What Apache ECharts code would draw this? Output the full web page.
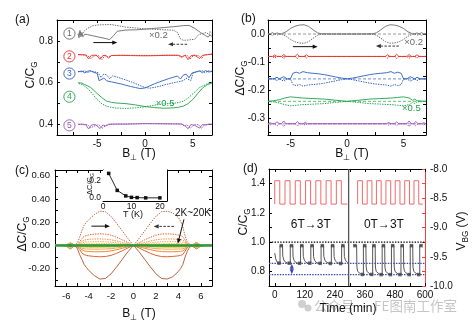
<!DOCTYPE html>
<html><head><meta charset="utf-8">
<script src="https://cdn.jsdelivr.net/npm/echarts@6/dist/echarts.min.js"></script>
<style>html,body{margin:0;padding:0;background:#fff}#c{width:476px;height:324px}</style>
</head><body><div id="c"></div>
<script>
const FONT = '"Liberation Sans", Arial, Helvetica, sans-serif';

// ---------------- Panel (a): C/CG vs B_perp, two sweep branches per trace ----------------
const aGrayUp = [[-7.0,0.835],[-6.9,0.815],[-6.8,0.85],[-6.7,0.82],[-6.6,0.84],[-6.5,0.82],[-6.3,0.832],[-6,0.83],[-5.5,0.825],[-5,0.82],[-4.5,0.815],[-4,0.81],[-3.7,0.806],[-3.3,0.825],[-2.9,0.846],[-2,0.852],[-1,0.853],[0,0.856],[1,0.86],[2,0.864],[3,0.868],[4,0.873],[4.6,0.874],[5.2,0.86],[5.8,0.84],[6.3,0.826],[6.6,0.818],[6.8,0.83],[7,0.82]];
const aGrayDown = [[7,0.835],[6.8,0.845],[6.7,0.83],[6.4,0.84],[6,0.835],[5.6,0.83],[5.2,0.808],[4.8,0.806],[4.5,0.804],[4,0.803],[3.7,0.81],[3.4,0.84],[3,0.851],[2,0.853],[1,0.856],[0,0.858],[-1,0.862],[-2,0.866],[-3,0.874],[-3.5,0.878],[-4,0.878],[-5,0.876],[-5.5,0.872],[-6,0.86],[-6.3,0.85],[-6.6,0.83],[-6.8,0.845],[-7,0.83]];
const aRedUp = [[-7,0.735],[-6.6,0.734],[-6.2,0.733],[-5.9,0.714],[-5.6,0.731],[-5.1,0.732],[-4.7,0.712],[-4.4,0.73],[-4.1,0.731],[-3.8,0.718],[-3.5,0.73],[-2.5,0.731],[-1.5,0.73],[-0.5,0.729],[0.5,0.729],[1.5,0.73],[2.5,0.731],[3.5,0.731],[3.9,0.724],[4.2,0.731],[4.5,0.71],[4.8,0.729],[5.2,0.731],[5.7,0.716],[6.0,0.731],[6.5,0.734],[7,0.736]];
const aRedDown = [[7,0.737],[6.6,0.735],[6.2,0.733],[5.9,0.716],[5.6,0.73],[5.1,0.732],[4.7,0.713],[4.4,0.731],[4.1,0.731],[3.8,0.72],[3.5,0.731],[2.5,0.732],[1.5,0.731],[0.5,0.73],[-0.5,0.73],[-1.5,0.731],[-2.5,0.731],[-3.5,0.73],[-3.9,0.723],[-4.2,0.73],[-4.5,0.711],[-4.8,0.728],[-5.2,0.731],[-5.7,0.715],[-6.0,0.73],[-6.5,0.733],[-7,0.734]];
const aBlueUp = [[-7,0.652],[-6.6,0.656],[-6.3,0.647],[-6.0,0.655],[-5.7,0.658],[-5.4,0.65],[-5.0,0.645],[-4.8,0.61],[-4.6,0.602],[-4.3,0.622],[-4.0,0.609],[-3.5,0.604],[-3,0.599],[-2.5,0.594],[-2,0.588],[-1.5,0.582],[-1,0.577],[-0.5,0.572],[0,0.575],[0.5,0.585],[1,0.595],[1.5,0.604],[2,0.612],[2.5,0.62],[3,0.627],[3.4,0.632],[3.7,0.618],[4.0,0.636],[4.3,0.641],[4.6,0.624],[4.9,0.646],[5.3,0.652],[5.7,0.656],[6.0,0.648],[6.3,0.658],[6.7,0.651],[7,0.655]];
const aBlueDown = [[7,0.654],[6.6,0.657],[6.3,0.648],[6.0,0.656],[5.7,0.657],[5.4,0.651],[5.0,0.646],[4.8,0.611],[4.6,0.603],[4.3,0.621],[4.0,0.61],[3.5,0.605],[3,0.6],[2.5,0.595],[2,0.589],[1.5,0.583],[1,0.578],[0.5,0.574],[0,0.577],[-0.5,0.586],[-1,0.596],[-1.5,0.605],[-2,0.613],[-2.5,0.621],[-3,0.628],[-3.4,0.633],[-3.7,0.619],[-4.0,0.637],[-4.3,0.642],[-4.6,0.625],[-4.9,0.647],[-5.3,0.653],[-5.7,0.655],[-6.0,0.649],[-6.3,0.657],[-6.7,0.652],[-7,0.654]];
const aGreenUp = [[-7,0.6],[-6.6,0.598],[-6.3,0.591],[-6,0.585],[-5.7,0.578],[-5.4,0.566],[-5,0.548],[-4.5,0.528],[-4,0.512],[-3.5,0.506],[-3,0.503],[-2,0.5],[-1,0.494],[0,0.486],[1,0.481],[2,0.478],[3,0.48],[3.5,0.483],[4,0.488],[4.5,0.5],[5,0.52],[5.5,0.548],[6,0.574],[6.5,0.591],[7,0.598]];
const aGreenDown = [[7,0.602],[6.6,0.597],[6.3,0.59],[6,0.584],[5.7,0.577],[5.4,0.565],[5,0.547],[4.5,0.527],[4,0.511],[3.5,0.505],[3,0.502],[2,0.499],[1,0.493],[0,0.485],[-1,0.48],[-2,0.477],[-3,0.479],[-3.5,0.482],[-4,0.487],[-4.5,0.499],[-5,0.519],[-5.5,0.547],[-6,0.573],[-6.5,0.59],[-7,0.597]];
const aPurpleUp = [[-7,0.401],[-6.6,0.402],[-6.2,0.4],[-5.9,0.379],[-5.6,0.398],[-5.2,0.4],[-4.7,0.381],[-4.4,0.398],[-4.1,0.393],[-3.8,0.401],[-3,0.402],[-2,0.402],[-1,0.403],[0,0.404],[1,0.404],[2,0.404],[3,0.403],[3.8,0.403],[4.1,0.396],[4.5,0.38],[4.8,0.4],[5.2,0.396],[5.7,0.383],[6.0,0.4],[6.4,0.398],[6.7,0.402],[7,0.4]];
const aPurpleDown = [[7,0.402],[6.6,0.401],[6.2,0.399],[5.9,0.381],[5.6,0.399],[5.2,0.401],[4.7,0.382],[4.4,0.399],[4.1,0.394],[3.8,0.402],[3,0.403],[2,0.403],[1,0.404],[0,0.405],[-1,0.404],[-2,0.403],[-3,0.403],[-3.8,0.402],[-4.1,0.395],[-4.5,0.381],[-4.8,0.399],[-5.2,0.395],[-5.7,0.384],[-6.0,0.399],[-6.4,0.399],[-6.7,0.401],[-7,0.401]];
const aTraceLabels = ['1','2','3','4','5'];
const aTraceLabelY = [0.835, 0.726, 0.644, 0.533, 0.396];

// ---------------- Panel (b): deltaC/CG, offset baselines and half-widths of the loops ----------------
const bGrayBase = 0, bRedBase = -0.08, bBlueBase = -0.16, bGreenBase = -0.24, bPurpleBase = -0.32;
const bGrayDev = [[-7,0],[-6.9,0.006],[-6.8,0],[-6.6,0.005],[-6.4,0],[-6.2,0.004],[-6,0],[-5.8,0.001],[-5.4,0.008],[-5,0.02],[-4.6,0.028],[-4.2,0.032],[-3.8,0.033],[-3.4,0.027],[-3,0.015],[-2.6,0.004],[-2.3,0.001],[-1,0],[0,0],[1,0],[2.3,0.001],[2.6,0.004],[3,0.015],[3.4,0.027],[3.8,0.033],[4.2,0.032],[4.6,0.028],[5,0.02],[5.4,0.008],[5.8,0.001],[6,0],[6.2,0.004],[6.4,0],[6.6,0.005],[6.8,0],[6.9,0.006],[7,0]];
const bRedDev = [[-7,0],[-6.6,0],[-6.4,0.006],[-6.2,0],[-5.8,0],[-5.6,0.007],[-5.4,0],[-4.6,0],[-4.4,0.008],[-4.2,0],[-3.8,0],[-3.6,0.006],[-3.4,0],[-2,0],[2,0],[3.4,0],[3.6,0.006],[3.8,0],[4.2,0],[4.4,0.008],[4.6,0],[5.3,0],[5.5,0.007],[5.7,0],[6.0,0],[6.2,0.006],[6.4,0],[7,0]];
const bBlueDev = [[-7,0],[-6.5,0],[-6.2,0.006],[-6,0],[-5.6,0.008],[-5.3,0],[-5,0.001],[-4.8,0.02],[-4.5,0.024],[-4.2,0.02],[-3.9,0.026],[-3.5,0.022],[-3,0.02],[-2.5,0.018],[-2,0.015],[-1.5,0.011],[-1,0.007],[-0.5,0.003],[0,0],[0.5,0.003],[1,0.007],[1.5,0.011],[2,0.015],[2.5,0.018],[3,0.02],[3.5,0.022],[3.9,0.026],[4.2,0.02],[4.5,0.024],[4.8,0.02],[5,0.001],[5.3,0],[5.6,0.008],[6,0],[6.2,0.006],[6.5,0],[7,0]];
const bGreenDev = [[-7,0],[-6.5,0.002],[-6,0.006],[-5.5,0.012],[-5,0.016],[-4.5,0.014],[-4,0.012],[-3,0.01],[-2,0.008],[-1,0.004],[0,0],[1,0.004],[2,0.008],[3,0.01],[4,0.012],[4.5,0.014],[5,0.016],[5.5,0.012],[5.8,0.004],[6,0.008],[6.2,0.002],[7,0]];
const bPurpleDev = [[-7,0],[-6.8,0.004],[-6.6,0],[-6.4,0],[-6.2,0.007],[-6,0],[-5.8,0],[-5.6,0.01],[-5.4,0],[-4.6,0],[-4.4,0.008],[-4.2,0],[-3.9,0],[-3.7,0.005],[-3.5,0],[3.5,0],[3.7,0.005],[3.9,0],[4.2,0],[4.4,0.007],[4.6,0],[5.3,0],[5.5,0.01],[5.7,0],[5.9,0],[6.1,0.008],[6.3,0],[6.6,0],[6.8,0.004],[7,0]];

// ---------------- Panel (c): deltaC/CG vs B for 2K..20K ----------------
const cB = [-7,-6.5,-6,-5.8,-5.6,-5.4,-5.2,-5,-4.8,-4.6,-4.4,-4.2,-4,-3.5,-3,-2.5,-2,-1.5,-1,-0.5,0,0.5,1,1.5,2,2.5,3,3.5,4,4.2,4.4,4.6,4.8,5,5.2,5.4,5.6,5.8,6,6.5,7];
const c2KUp = [0,0,0.005,0.015,0.025,0.01,0.005,0.02,0.07,0.13,0.175,0.2,0.22,0.265,0.295,0.29,0.25,0.19,0.125,0.06,0,0.06,0.125,0.19,0.25,0.29,0.295,0.28,0.24,0.21,0.16,0.08,0.03,0.01,0.005,0.012,0.028,0.015,0.005,0,0];
const c2KDn = [0,0,-0.005,-0.02,-0.03,-0.012,-0.005,-0.03,-0.08,-0.12,-0.165,-0.19,-0.215,-0.26,-0.29,-0.285,-0.245,-0.185,-0.12,-0.055,0,-0.055,-0.12,-0.185,-0.245,-0.285,-0.29,-0.27,-0.225,-0.2,-0.165,-0.1,-0.05,-0.015,-0.005,-0.015,-0.03,-0.02,-0.005,0,0];
const c5KUp = [0,0,0.003,0.01,0.02,0.008,0.003,0.01,0.03,0.06,0.078,0.085,0.09,0.097,0.1,0.098,0.088,0.07,0.048,0.024,0,0.024,0.048,0.07,0.088,0.098,0.1,0.097,0.09,0.085,0.075,0.045,0.015,0.005,0.003,0.008,0.02,0.01,0.003,0,0];
const c5KDn = [0,0,-0.003,-0.012,-0.022,-0.008,-0.003,-0.012,-0.035,-0.065,-0.08,-0.086,-0.09,-0.095,-0.098,-0.096,-0.086,-0.068,-0.046,-0.022,0,-0.022,-0.046,-0.068,-0.086,-0.096,-0.098,-0.095,-0.09,-0.086,-0.078,-0.05,-0.018,-0.005,-0.003,-0.008,-0.022,-0.012,-0.003,0,0];
const c8KUp = [0,0,0.002,0.012,0.022,0.006,0.002,0.006,0.018,0.035,0.045,0.05,0.052,0.055,0.056,0.054,0.048,0.038,0.026,0.013,0,0.013,0.026,0.038,0.048,0.054,0.056,0.055,0.052,0.05,0.045,0.03,0.01,0.003,0.002,0.006,0.022,0.012,0.002,0,0];
const c8KDn = [0,0,-0.002,-0.014,-0.024,-0.006,-0.002,-0.008,-0.022,-0.038,-0.047,-0.051,-0.053,-0.055,-0.055,-0.053,-0.047,-0.037,-0.025,-0.012,0,-0.012,-0.025,-0.037,-0.047,-0.053,-0.055,-0.055,-0.053,-0.051,-0.047,-0.034,-0.012,-0.003,-0.002,-0.006,-0.024,-0.014,-0.002,0,0];
const c10KUp = [0,0,0.002,0.012,0.025,0.005,0.002,0.004,0.012,0.022,0.028,0.03,0.031,0.032,0.032,0.031,0.028,0.022,0.015,0.008,0,0.008,0.015,0.022,0.028,0.031,0.032,0.032,0.031,0.03,0.028,0.02,0.007,0.002,0.002,0.005,0.025,0.012,0.002,0,0];
const c10KDn = [0,0,-0.002,-0.014,-0.027,-0.005,-0.002,-0.005,-0.014,-0.024,-0.029,-0.031,-0.031,-0.032,-0.032,-0.031,-0.028,-0.022,-0.015,-0.008,0,-0.008,-0.015,-0.022,-0.028,-0.031,-0.032,-0.032,-0.031,-0.031,-0.029,-0.022,-0.008,-0.002,-0.002,-0.005,-0.027,-0.014,-0.002,0,0];
const c12KUp = [0,0,0.001,0.01,0.02,0.004,0.001,0.002,0.007,0.012,0.015,0.016,0.016,0.017,0.017,0.016,0.015,0.012,0.008,0.004,0,0.004,0.008,0.012,0.015,0.016,0.017,0.017,0.016,0.016,0.015,0.011,0.004,0.001,0.001,0.004,0.02,0.01,0.001,0,0];
const c12KDn = [0,0,-0.001,-0.012,-0.022,-0.004,-0.001,-0.003,-0.008,-0.013,-0.016,-0.016,-0.017,-0.017,-0.017,-0.016,-0.015,-0.012,-0.008,-0.004,0,-0.004,-0.008,-0.012,-0.015,-0.016,-0.017,-0.017,-0.017,-0.016,-0.016,-0.012,-0.004,-0.001,-0.001,-0.004,-0.022,-0.012,-0.001,0,0];
const c15KUp = [0,0,0,0.006,0.012,0.002,0,0.001,0.003,0.005,0.006,0.006,0.006,0.007,0.007,0.006,0.006,0.005,0.003,0.002,0,0.002,0.003,0.005,0.006,0.006,0.007,0.007,0.006,0.006,0.006,0.005,0.002,0,0,0.002,0.012,0.006,0,0,0];
const c15KDn = [0,0,0,-0.007,-0.013,-0.002,0,-0.001,-0.003,-0.005,-0.006,-0.006,-0.007,-0.007,-0.007,-0.006,-0.006,-0.005,-0.003,-0.002,0,-0.002,-0.003,-0.005,-0.006,-0.006,-0.007,-0.007,-0.007,-0.006,-0.006,-0.005,-0.002,0,0,-0.002,-0.013,-0.007,0,0,0];
const c20KUp = [0,0,0,0.003,0.006,0.001,0,0,0.001,0.002,0.002,0.002,0.002,0.002,0.002,0.002,0.002,0.002,0.001,0.001,0,0.001,0.001,0.002,0.002,0.002,0.002,0.002,0.002,0.002,0.002,0.002,0.001,0,0,0.001,0.006,0.003,0,0,0];
const c20KDn = [0,0,0,-0.003,-0.006,-0.001,0,0,-0.001,-0.002,-0.002,-0.002,-0.002,-0.002,-0.002,-0.002,-0.002,-0.002,-0.001,-0.001,0,-0.001,-0.001,-0.002,-0.002,-0.002,-0.002,-0.002,-0.002,-0.002,-0.002,-0.002,-0.001,0,0,-0.001,-0.006,-0.003,0,0,0];
const cZero = [[-7,0],[7,0]];
// inset: peak deltaC/CG vs T
const insetT = [2,5,8,10,12,15,20];
const insetDC = [0.29,0.09,0.025,0.008,0.005,0.002,0.002];
const insetZero = [[0,0],[22.5,0]];

// ---------------- Panel (d): C/CG and V_BG vs time ----------------
const dGrayLeft = [[0,0.925],[4,0.885],[8,0.866],[14,0.857],[21,0.855],[21,0.975],[31,0.976],[32,0.905],[36,0.878],[42,0.864],[50,0.857],[62,0.855],[62,0.977],[72,0.975],[73,0.9],[77,0.876],[83,0.862],[91,0.856],[103,0.854],[103,0.976],[113,0.976],[114,0.902],[118,0.877],[124,0.863],[132,0.857],[144,0.855],[144,0.975],[154,0.977],[155,0.9],[159,0.876],[165,0.862],[173,0.856],[185,0.854],[185,0.976],[195,0.975],[196,0.903],[200,0.877],[206,0.863],[214,0.857],[226,0.853],[226,0.976],[236,0.976],[237,0.9],[241,0.876],[247,0.862],[255,0.856],[267,0.853],[267,0.975],[277,0.976],[278,0.902],[282,0.877],[288,0.863],[292,0.858]];
const dGrayRight = [[314,0.975],[327,0.976],[328,0.83],[331,0.8],[336,0.787],[344,0.781],[354,0.779],[354,0.976],[364,0.975],[365,0.83],[368,0.8],[373,0.787],[381,0.781],[391,0.778],[391,0.975],[401,0.976],[402,0.83],[405,0.8],[410,0.787],[418,0.781],[429,0.778],[429,0.976],[439,0.975],[440,0.83],[443,0.8],[448,0.787],[456,0.781],[466,0.777],[466,0.975],[476,0.976],[477,0.83],[480,0.8],[485,0.787],[493,0.781],[504,0.778],[504,0.976],[514,0.975],[515,0.83],[518,0.8],[523,0.787],[531,0.781],[541,0.777],[541,0.975],[551,0.976],[552,0.83],[555,0.8],[560,0.787],[568,0.781],[579,0.778],[579,0.976],[590,0.975]];
const dTopMarks = [[26,0.976],[67,0.976],[108,0.976],[149,0.976],[190,0.976],[231,0.976],[272,0.976],[320,0.976],[359,0.976],[396,0.976],[434,0.976],[471,0.976],[509,0.976],[546,0.976],[584,0.976]];
const dBottomMarks = [[17,0.856],[58,0.856],[99,0.855],[140,0.856],[181,0.855],[222,0.854],[263,0.854],[350,0.779],[387,0.779],[425,0.778],[462,0.778],[500,0.778],[537,0.778],[575,0.778]];
const dVbgLeft = [[0,-8.6],[0,-8.2],[20,-8.2],[20,-8.6],[41,-8.6],[41,-8.2],[61,-8.2],[61,-8.6],[82,-8.6],[82,-8.2],[102,-8.2],[102,-8.6],[123,-8.6],[123,-8.2],[143,-8.2],[143,-8.6],[164,-8.6],[164,-8.2],[184,-8.2],[184,-8.6],[205,-8.6],[205,-8.2],[225,-8.2],[225,-8.6],[246,-8.6],[246,-8.2],[266,-8.2],[266,-8.6],[290,-8.6]];
const dVbgRight = [[331,-8.6],[331,-8.2],[350,-8.2],[350,-8.6],[369,-8.6],[369,-8.2],[388,-8.2],[388,-8.6],[406,-8.6],[406,-8.2],[425,-8.2],[425,-8.6],[444,-8.6],[444,-8.2],[463,-8.2],[463,-8.6],[481,-8.6],[481,-8.2],[500,-8.2],[500,-8.6],[519,-8.6],[519,-8.2],[538,-8.2],[538,-8.6],[556,-8.6],[556,-8.2],[575,-8.2],[575,-8.6],[591,-8.6]];
const dRefLevel = [[-23,1.0],[600,1.0]];
const dBlueHigh = [[-23,0.855],[600,0.855]];
const dBlueLow = [[-23,0.778],[600,0.778]];
const dDivider = [[295,0.7],[295,1.5]];

// ---------------- tick labels ----------------
const aXLabels = [-5,0,5], aXTicks = [-7.5,-5,-2.5,0,2.5,5];
const aYLabels = [0.4,0.6,0.8], aYTicks = [0.4,0.5,0.6,0.7,0.8,0.9];
const bXLabels = [-5,0,5], bXTicks = [-5,-2.5,0,2.5,5];
const bYLabels = [0,-0.1,-0.2,-0.3], bYTicks = [0.05,0,-0.05,-0.1,-0.15,-0.2,-0.25,-0.3,-0.35];
const cXLabels = [-6,-4,-2,0,2,4,6], cXTicks = [-6,-5,-4,-3,-2,-1,0,1,2,3,4,5,6];
const cYLabels = [-0.2,0,0.2,0.4,0.6], cYTicks = [-0.3,-0.2,-0.1,0,0.1,0.2,0.3,0.4,0.5,0.6];
const dXLabels = [0,120,240,360,480,600], dXTicks = [0,60,120,180,240,300,360,420,480,540,600];
const dYLabels = [0.8,1.0,1.2,1.4], dYTicks = [0.7,0.8,0.9,1.0,1.1,1.2,1.3,1.4,1.5];
const dY2Labels = [-10,-9.5,-9,-8.5,-8], dY2Ticks = [-10,-9.75,-9.5,-9.25,-9,-8.75,-8.5,-8.25,-8];
const iXLabels = [0,10,20], iXTicks = [0,5,10,15,20];
const iYLabels = [0,0.2], iYTicks = [0,0.1,0.2,0.3];

// ---------------- build ----------------
const chart = echarts.init(document.getElementById('c'), null, {renderer:'canvas'});
const GRAY='#6a6a6a', RED='#e8312b', BLUE='#2c5fc0', GREEN='#1fa34a', PURPLE='#9a55b8';
const cColors = ['#b8643e','#e0622c','#f08a3a','#f5a64a','#f6c64a','#d4cf40','#2e9a3e'];

function ax(kind, grid, min, max, pos, labels, ticks, fmt, o) {
  o = o || {};
  const col = o.color || '#000';
  return {
    type:'value', gridIndex:grid, min:min, max:max, position:pos,
    axisLine:{show:true,onZero:false,lineStyle:{color:col,width:1}},
    axisTick:{show:true,inside:true,length:3,customValues:ticks,lineStyle:{color:col,width:1}},
    axisLabel:{show:!!labels,customValues:labels||undefined,formatter:fmt,fontSize:o.fs||10,color:'#111',fontFamily:FONT,margin:(o.margin!==undefined?o.margin:4)},
    splitLine:{show:false}
  };
}
const f0 = v => String(Math.round(v));
const f1 = v => v.toFixed(1);
const f2 = v => v.toFixed(2);

const xAxis = [
  ax('x',0,-9.2,7,'bottom',aXLabels,aXTicks,f0,{margin:4}),
  ax('x',0,-9.2,7,'top',null,aXTicks),
  ax('x',1,-7,7,'bottom',bXLabels,bXTicks,f0,{margin:4}),
  ax('x',1,-7,7,'top',null,bXTicks),
  ax('x',2,-7,7,'bottom',cXLabels,cXTicks,f0,{margin:5,fs:9.5}),
  ax('x',2,-7,7,'top',null,cXTicks),
  ax('x',3,-23,600,'bottom',dXLabels,dXTicks,f0,{margin:4}),
  ax('x',3,-23,600,'top',null,dXTicks),
  ax('x',4,0,22.5,'bottom',iXLabels,iXTicks,f0,{margin:1,fs:8.5}),
  ax('x',4,0,22.5,'top',null,iXTicks)
];
const yAxis = [
  ax('y',0,0.35,0.9,'left',aYLabels,aYTicks,f1,{margin:4}),
  ax('y',0,0.35,0.9,'right',null,aYTicks),
  ax('y',1,-0.36,0.05,'left',bYLabels,bYTicks,f1,{margin:3}),
  ax('y',1,-0.36,0.05,'right',null,bYTicks),
  ax('y',2,-0.35,0.65,'left',cYLabels,cYTicks,f2,{margin:5,fs:9.5}),
  ax('y',2,-0.35,0.65,'right',null,cYTicks),
  ax('y',3,0.7,1.5,'left',dYLabels,dYTicks,f1,{margin:4}),
  ax('y',3,-10,-8,'right',dY2Labels,dY2Ticks,f1,{margin:5,color:'#f04040'}),
  ax('y',4,-0.035,0.33,'left',iYLabels,iYTicks,f1,{margin:2,fs:8.5}),
  ax('y',4,-0.035,0.33,'right',null,iYTicks)
];

function ln(xi, yi, data, color, w, type, z) {
  return {type:'line', xAxisIndex:xi, yAxisIndex:yi, data:data, symbol:'none', showSymbol:false,
    silent:true, animation:false, lineStyle:{color:color, width:w, type:type||'solid'}, z:z||2};
}
const DOT = [1.4,1.1];
const pairs = (xs, ys) => xs.map((x,i)=>[x, ys[i]]);
const offs = (base, dev, s) => dev.map(d=>[d[0], base + s*d[1]]);

const series = [];
// (a)
[[aGrayUp,aGrayDown,GRAY],[aRedUp,aRedDown,RED],[aBlueUp,aBlueDown,BLUE],[aGreenUp,aGreenDown,GREEN],[aPurpleUp,aPurpleDown,PURPLE]].forEach(t=>{
  series.push(ln(0,0,t[0],t[2],0.9));
  series.push(ln(0,0,t[1],t[2],1,DOT));
});
// (b)
[[bGrayBase,bGrayDev,GRAY],[bRedBase,bRedDev,RED],[bBlueBase,bBlueDev,BLUE],[bGreenBase,bGreenDev,GREEN],[bPurpleBase,bPurpleDev,PURPLE]].forEach(t=>{
  series.push(ln(2,2,[[-7,t[0]],[7,t[0]]],t[2],0.7,[3,2]));
  series.push(ln(2,2,offs(t[0],t[1],1),t[2],0.9));
  series.push(ln(2,2,offs(t[0],t[1],-1),t[2],1,DOT));
});
// (c)
series.push(ln(4,4,cZero,'#000',0.9,'solid',2));
[[c2KUp,c2KDn],[c5KUp,c5KDn],[c8KUp,c8KDn],[c10KUp,c10KDn],[c12KUp,c12KDn],[c15KUp,c15KDn],[c20KUp,c20KDn]].forEach((t,i)=>{
  const w = i===6 ? 2 : 1;
  series.push(ln(4,4,pairs(cB,t[0]),cColors[i],w,i===6?'solid':DOT,3+i));
  series.push(ln(4,4,pairs(cB,t[1]),cColors[i],w,'solid',3+i));
});
// inset
series.push(ln(8,8,insetZero,'#888',0.8,[3,2]));
series.push({type:'line', xAxisIndex:8, yAxisIndex:8, data:pairs(insetT,insetDC), symbol:'rect', symbolSize:3.5,
  showSymbol:true, silent:true, animation:false, lineStyle:{color:'#111',width:0.9}, itemStyle:{color:'#111'}, z:10});
// (d)
series.push(ln(6,7,dVbgLeft,'#f06a6a',1));
series.push(ln(6,7,dVbgRight,'#f06a6a',1));
series.push(ln(6,6,dBlueHigh,'#3a48b4',1.3,[1.5,1.2]));
series.push(ln(6,6,dBlueLow,'#3a48b4',1.3,[1.5,1.2]));
series.push(ln(6,6,dRefLevel,'#000',1.4,[1.4,1.4]));
series.push(ln(6,6,dGrayLeft,'#555',1));
series.push(ln(6,6,dGrayRight,'#555',1));
series.push(ln(6,6,dDivider,'#555',1.3));
series.push({type:'scatter', xAxisIndex:6, yAxisIndex:6, data:dTopMarks.concat(dBottomMarks), symbol:'rect', symbolSize:3.5,
  silent:true, animation:false, itemStyle:{color:'#444'}, z:6});

chart.setOption({
  animation:false,
  textStyle:{fontFamily:FONT},
  grid:[
    {left:57, top:20, width:155, height:115},
    {left:268, top:20, width:158, height:115},
    {left:55, top:170, width:157, height:116},
    {left:269, top:169, width:156, height:117},
    {left:103, top:170, width:64, height:31, show:true, backgroundColor:'#fff', borderWidth:0, z:4}
  ],
  xAxis:xAxis, yAxis:yAxis, series:series
});

// ---------------- annotations ----------------
const P = (xi, yi, pt) => chart.convertToPixel({xAxisIndex:xi, yAxisIndex:yi}, pt);
const els = [];
function txt(x, y, text, fs, color, align, rot, rich, extra) {
  const st = Object.assign({text:text, fontSize:fs, fontFamily:FONT, fill:color||'#111',
    textAlign:align||'center', align:align||'center', textVerticalAlign:'middle', verticalAlign:'middle'}, extra||{});
  if (rich) st.rich = rich;
  els.push({type:'text', x:x, y:y, rotation:rot||0, style:st, silent:true, z:100});
}
const subRich = (fs) => ({n:{fontSize:fs,lineHeight:fs+3,fontFamily:FONT,fill:'#111'}, s:{fontSize:fs*0.68,lineHeight:fs*0.68,verticalAlign:'bottom',fontFamily:FONT,fill:'#111'}});
function arrow(a, b, color, dashed, both) {
  const dx=b[0]-a[0], dy=b[1]-a[1], L=Math.hypot(dx,dy), ux=dx/L, uy=dy/L;
  const hl=5, hw=2.1;
  const st = both ? [a[0]+ux*hl*0.8, a[1]+uy*hl*0.8] : a;
  const en = [b[0]-ux*hl*0.8, b[1]-uy*hl*0.8];
  const ls = {stroke:color, lineWidth:1};
  if (dashed) ls.lineDash = [2.5,1.5];
  els.push({type:'line', shape:{x1:st[0],y1:st[1],x2:en[0],y2:en[1]}, style:ls, silent:true, z:100});
  const head = (p, vx, vy) => els.push({type:'polygon', shape:{points:[[p[0],p[1]],[p[0]-vx*hl+(-vy)*hw,p[1]-vy*hl+vx*hw],[p[0]-vx*hl-(-vy)*hw,p[1]-vy*hl-vx*hw]]}, style:{fill:color}, silent:true, z:100});
  head(b, ux, uy);
  if (both) head(a, -ux, -uy);
}

// panel letters
txt(15,20,'(a)',12,'#111','left');
txt(241,19,'(b)',12,'#111','left');
txt(15,171,'(c)',12,'#111','left');
txt(243,169,'(d)',12,'#111','left');
// axis names
txt(31,75,'{n|C/C}{s|G}',12,'#111','center',Math.PI/2,subRich(12));
txt(241,78,'{n|ΔC/C}{s|G}',12,'#111','center',Math.PI/2,subRich(12));
txt(23,234,'{n|ΔC/C}{s|G}',12,'#111','center',Math.PI/2,subRich(12));
txt(244,222,'{n|C/C}{s|G}',12,'#111','center',Math.PI/2,subRich(12));
txt(462,231,'{n|V}{s|BG}{n| (V)}',12,'#111','center',Math.PI/2,subRich(12));
txt(139,154,'{n|B}{s|⊥}{n| (T)}',12,'#111','center',0,subRich(12));
txt(352,154,'{n|B}{s|⊥}{n| (T)}',12,'#111','center',0,subRich(12));
txt(139,314,'{n|B}{s|⊥}{n| (T)}',12,'#111','center',0,subRich(12));
// watermark
txt(314,306,'公众号 · FE图南工作室',13.5,'rgba(150,150,150,0.55)','left',0,null,{fontFamily:'"Noto Sans CJK SC", sans-serif'});
els.push({type:'circle', shape:{cx:302,cy:304,r:4}, style:{fill:'rgba(160,160,160,0.5)'}, silent:true, z:99});
els.push({type:'circle', shape:{cx:308,cy:308,r:3.5}, style:{fill:'rgba(160,160,160,0.5)'}, silent:true, z:99});
txt(348,309,'Time (min)',12,'#111','center');
// inset names
txt(90,184,'{n|ΔC/C}{s|G}',7.5,'#111','center',Math.PI/2,subRich(7.5));
txt(133,214.5,'T (K)',9,'#111','center');

// circled trace numbers in (a)
const aCols = [GRAY,RED,BLUE,GREEN,PURPLE];
aTraceLabels.forEach((s,i)=>{
  const p = P(0,0,[-7.9,aTraceLabelY[i]]);
  els.push({type:'circle', shape:{cx:p[0],cy:p[1],r:5.6}, style:{fill:'none',stroke:aCols[i],lineWidth:0.9}, silent:true, z:100});
  txt(p[0],p[1]+0.3,s,8.5,aCols[i],'center');
});
// (a) annotations
let p = P(0,0,[1.4,0.828]); txt(p[0],p[1],'×0.2',9.5,GRAY);
p = P(0,0,[2.1,0.503]); txt(p[0],p[1],'×0.5',9.5,GREEN);
arrow(P(0,0,[-5.4,0.792]),P(0,0,[-2.9,0.792]),'#111',false);
arrow(P(0,0,[4.4,0.784]),P(0,0,[2.4,0.784]),'#333',true);
// (b) annotations
p = P(2,2,[5.9,-0.028]); txt(p[0],p[1],'×0.2',9.5,GRAY);
p = P(2,2,[5.7,-0.264]); txt(p[0],p[1],'×0.5',9.5,GREEN);
arrow(P(2,2,[-4.8,-0.045]),P(2,2,[-2.6,-0.045]),'#111',false);
arrow(P(2,2,[4.6,-0.043]),P(2,2,[2.56,-0.043]),'#333',true);
// (c) annotations
arrow(P(4,4,[-3.75,0.166]),P(4,4,[-2.1,0.166]),'#111',false);
arrow(P(4,4,[3.6,0.164]),P(4,4,[1.8,0.164]),'#333',true);
p = P(4,4,[5.3,0.276]); txt(p[0],p[1],'2K~20K',10,'#111');
arrow(P(4,4,[4.5,0.225]),P(4,4,[3.95,0.015]),'#111',false);
// (d) annotations
p = P(6,6,[144,1.12]); txt(p[0],p[1],'6T→3T',12,'#111');
p = P(6,6,[436,1.12]); txt(p[0],p[1],'0T→3T',12,'#111');
arrow(P(6,6,[68,0.852]),P(6,6,[68,0.781]),'#3a48b4',false,true);

chart.setOption({graphic:{elements:els}});
</script></body></html>
